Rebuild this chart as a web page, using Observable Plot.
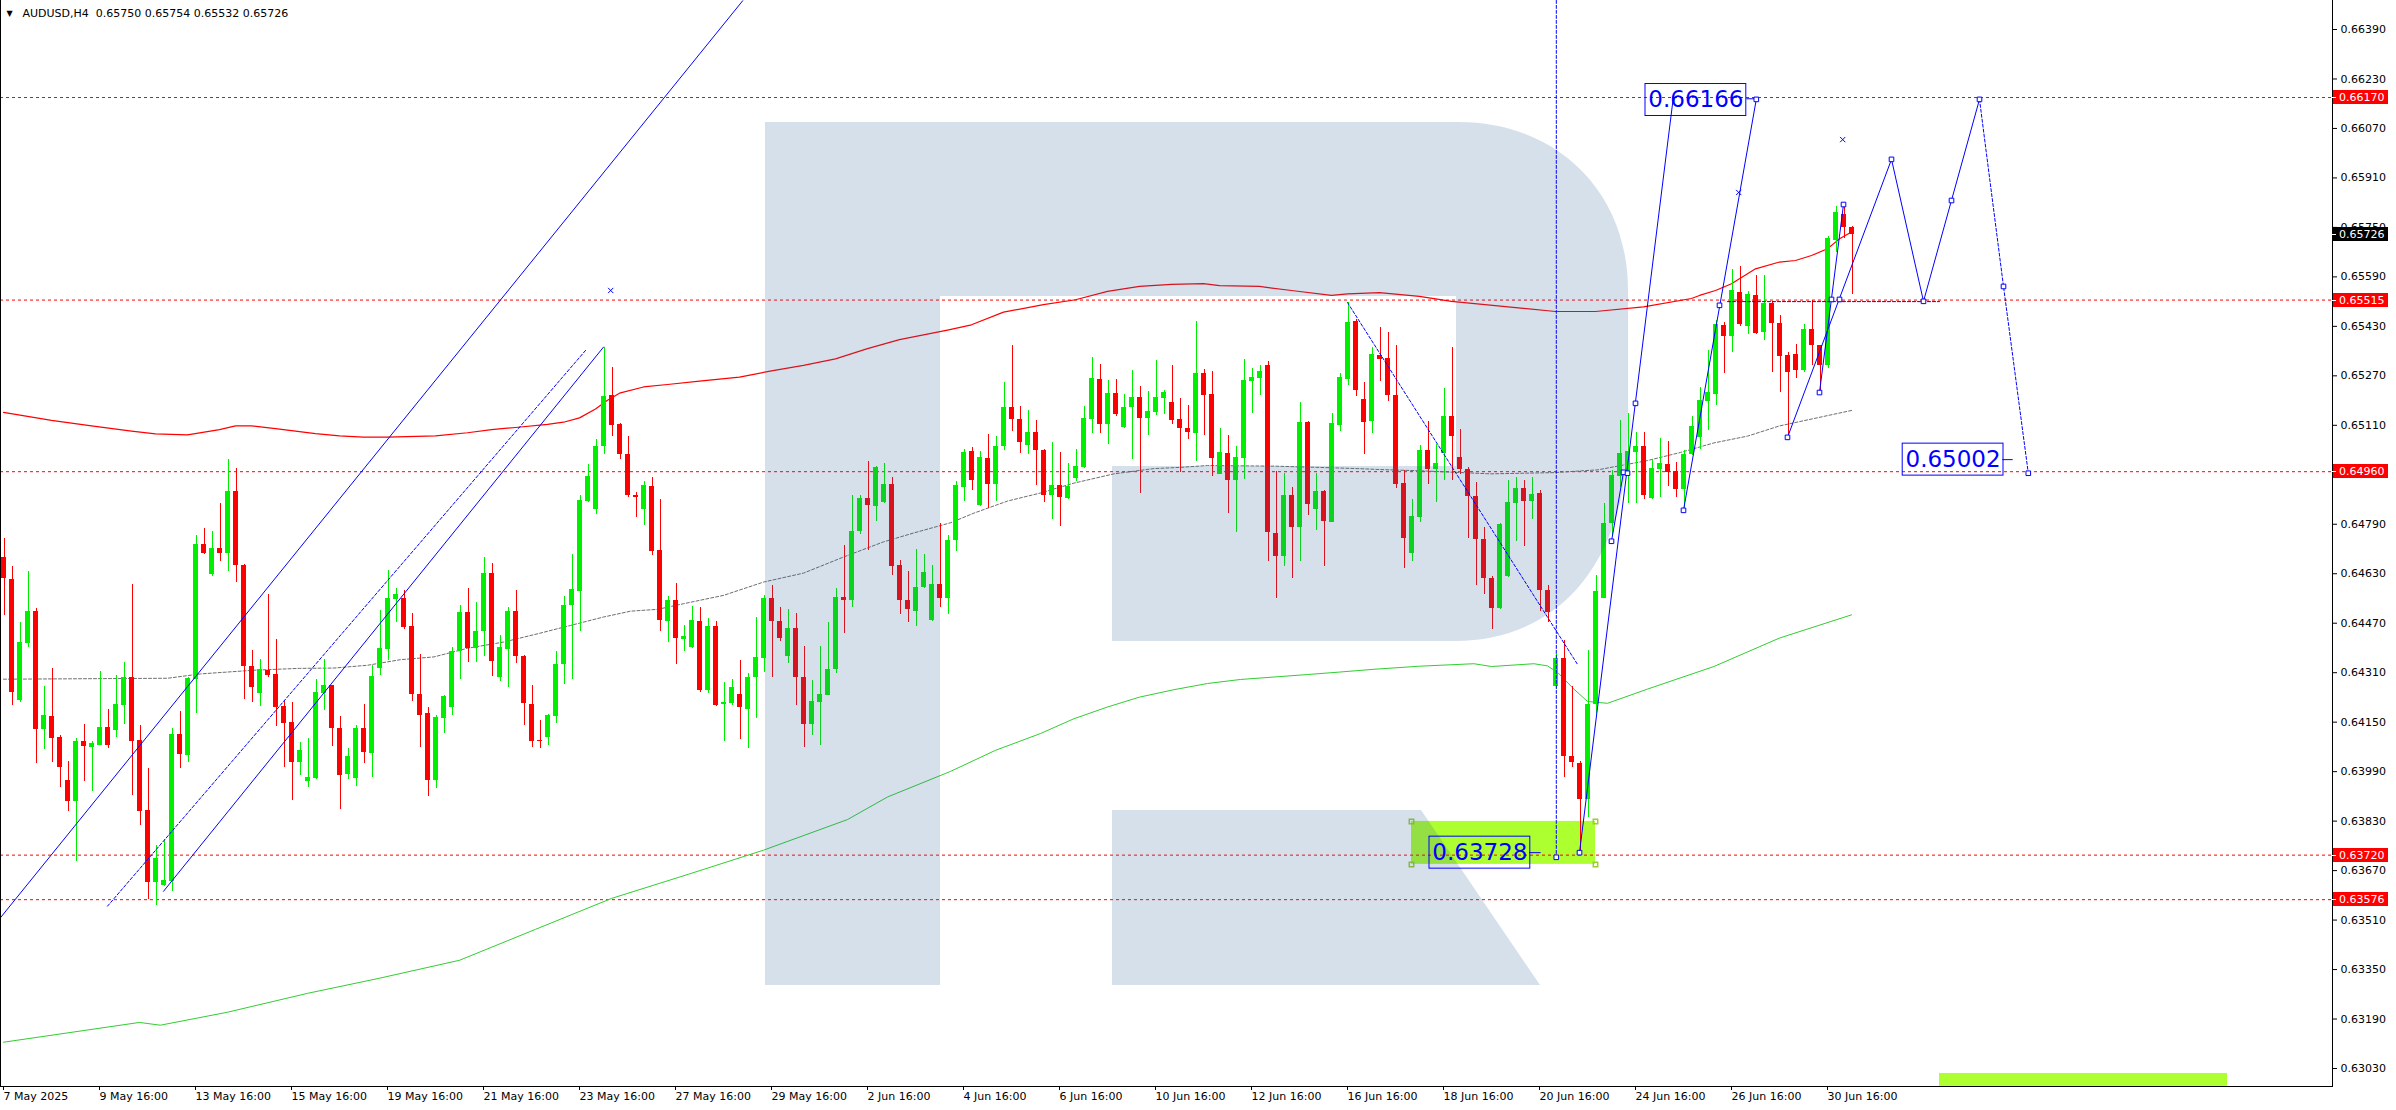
<!DOCTYPE html>
<html><head><meta charset="utf-8">
<script src="https://cdn.jsdelivr.net/npm/d3@7"></script>
<script src="https://cdn.jsdelivr.net/npm/@observablehq/plot@0.6"></script>
<style>html,body{margin:0;padding:0;background:#fff;} svg{display:block;}</style>
</head><body><div id="chart"></div>
<script>
// ---------- DATA ----------
const symbolTitle = "AUDUSD,H4  0.65750 0.65754 0.65532 0.65726";
const timeLabels = ["7 May 2025","9 May 16:00","13 May 16:00","15 May 16:00","19 May 16:00","21 May 16:00","23 May 16:00","27 May 16:00","29 May 16:00","2 Jun 16:00","4 Jun 16:00","6 Jun 16:00","10 Jun 16:00","12 Jun 16:00","16 Jun 16:00","18 Jun 16:00","20 Jun 16:00","24 Jun 16:00","26 Jun 16:00","30 Jun 16:00"];
const timeTickBars = [0,12,24,36,48,60,72,84,96,108,120,132,144,156,168,180,192,204,216,228];
const priceTicks = [0.63030,0.63190,0.63350,0.63510,0.63670,0.63830,0.63990,0.64150,0.64310,0.64470,0.64630,0.64790,0.65110,0.65270,0.65430,0.65590,0.65750,0.65910,0.66070,0.66230,0.66390];
const levelLines = [0.66170,0.65515,0.64960,0.63720,0.63576];
const lastPrice = 0.65726;

const opens = [0.64682,0.64611,0.64220,0.64406,0.64507,0.64125,0.64167,0.64100,0.63960,0.63894,
0.64087,0.64069,0.64075,0.64133,0.64124,0.64204,0.64294,0.64091,0.63863,0.63632,
0.63623,0.63635,0.64110,0.64043,0.64288,0.64724,0.64626,0.64712,0.64695,0.64896,
0.64657,0.64331,0.64244,0.64318,0.64304,0.64201,0.64148,0.64020,0.63959,0.63969,
0.64244,0.64268,0.64131,0.63982,0.63969,0.64129,0.64049,0.64324,0.64386,0.64547,
0.64549,0.64459,0.64238,0.64178,0.63961,0.64163,0.64198,0.64380,0.64505,0.64388,
0.64442,0.64631,0.64293,0.64386,0.64508,0.64363,0.64208,0.64091,0.64102,0.64169,
0.64335,0.64526,0.64574,0.64864,0.64838,0.65040,0.65205,0.65113,0.65016,0.64882,
0.64838,0.64913,0.64706,0.64477,0.64544,0.64416,0.64390,0.64476,0.64254,0.64460,
0.64206,0.64211,0.64240,0.64191,0.64293,0.64357,0.64550,0.64476,0.64361,0.64453,
0.64293,0.64141,0.64215,0.64237,0.64319,0.64552,0.64542,0.64765,0.64874,0.64849,
0.64861,0.64919,0.64657,0.64544,0.64509,0.64585,0.64479,0.64596,0.64551,0.64736,
0.64910,0.65026,0.64851,0.65002,0.64917,0.65040,0.65168,0.65129,0.65046,0.65086,
0.65029,0.64884,0.64916,0.64872,0.64939,0.64974,0.65130,0.65258,0.65114,0.65213,
0.65103,0.65166,0.65200,0.65133,0.65153,0.65197,0.65184,0.65129,0.65100,0.65084,
0.65278,0.65210,0.64952,0.65019,0.64933,0.65004,0.65252,0.65262,0.65304,0.64761,
0.64687,0.64883,0.64778,0.65119,0.64839,0.64896,0.64797,0.65111,0.65259,0.65446,
0.65194,0.65123,0.65336,0.65326,0.65207,0.64922,0.64694,0.64813,0.65029,0.64966,
0.65018,0.65137,0.65006,0.64967,0.64880,0.64741,0.64615,0.64516,0.64620,0.64856,
0.64907,0.64864,0.64889,0.64575,0.64264,0.64356,0.64039,0.64017,0.63901,0.64208,
0.64551,0.64793,0.64946,0.64952,0.65022,0.65042,0.64873,0.64967,0.64984,0.64962,
0.64904,0.65016,0.65071,0.65186,0.65211,0.65434,0.65396,0.65541,0.65430,0.65530,
0.65409,0.65504,0.65438,0.65336,0.65338,0.65286,0.65420,0.65367,0.65303,0.65708,
0.65792,0.65750];
const highs = [0.64744,0.64653,0.64473,0.64637,0.64517,0.64266,0.64324,0.64106,0.64023,0.64097,
0.64142,0.64088,0.64313,0.64190,0.64300,0.64342,0.64595,0.64139,0.64000,0.63751,
0.63770,0.64129,0.64184,0.64294,0.64754,0.64777,0.64767,0.64858,0.64999,0.64970,
0.64659,0.64382,0.64353,0.64562,0.64418,0.64220,0.64214,0.64085,0.64097,0.64287,
0.64353,0.64270,0.64167,0.64064,0.64139,0.64207,0.64332,0.64511,0.64640,0.64583,
0.64576,0.64501,0.64368,0.64197,0.64172,0.64235,0.64390,0.64528,0.64583,0.64537,
0.64683,0.64664,0.64431,0.64521,0.64576,0.64365,0.64267,0.64156,0.64175,0.64379,
0.64558,0.64693,0.64883,0.64984,0.65064,0.65363,0.65297,0.65115,0.65074,0.64893,
0.64928,0.64942,0.64870,0.64558,0.64598,0.64463,0.64524,0.64521,0.64486,0.64475,
0.64277,0.64288,0.64348,0.64307,0.64489,0.64559,0.64592,0.64522,0.64515,0.64503,
0.64395,0.64285,0.64395,0.64471,0.64581,0.64722,0.64883,0.64883,0.64993,0.64978,
0.64987,0.64942,0.64673,0.64638,0.64710,0.64693,0.64657,0.64792,0.64754,0.64929,
0.65032,0.65038,0.65026,0.65081,0.65074,0.65249,0.65368,0.65171,0.65158,0.65126,
0.65032,0.65055,0.65022,0.64987,0.65032,0.65171,0.65328,0.65307,0.65255,0.65258,
0.65210,0.65287,0.65236,0.65220,0.65320,0.65223,0.65304,0.65198,0.65174,0.65446,
0.65291,0.65284,0.65100,0.65077,0.65042,0.65323,0.65294,0.65304,0.65317,0.64961,
0.64954,0.64909,0.65184,0.65123,0.64954,0.64900,0.65148,0.65279,0.65507,0.65452,
0.65250,0.65362,0.65427,0.65411,0.65368,0.64965,0.64870,0.65045,0.65121,0.65047,
0.65229,0.65363,0.65096,0.64975,0.64925,0.64778,0.64620,0.64794,0.64933,0.64942,
0.64933,0.64942,0.64900,0.64593,0.64369,0.64415,0.64264,0.64023,0.64382,0.64624,
0.64857,0.64963,0.65125,0.65148,0.65086,0.65086,0.64997,0.65066,0.65058,0.64989,
0.65029,0.65137,0.65233,0.65352,0.65449,0.65442,0.65613,0.65624,0.65544,0.65596,
0.65594,0.65510,0.65464,0.65346,0.65371,0.65437,0.65515,0.65369,0.65720,0.65818,
0.65816,0.65754];
const lows = [0.64495,0.64204,0.64212,0.64390,0.64017,0.64061,0.64020,0.63940,0.63862,0.63699,
0.63959,0.63927,0.64075,0.64066,0.64102,0.64143,0.63914,0.63817,0.63575,0.63558,
0.63620,0.63602,0.64001,0.64021,0.64179,0.64692,0.64620,0.64670,0.64638,0.64602,
0.64224,0.64214,0.64202,0.64295,0.64136,0.64005,0.63897,0.63977,0.63938,0.63963,
0.64189,0.64072,0.63869,0.63965,0.63941,0.64017,0.63972,0.64301,0.64350,0.64471,
0.64451,0.64218,0.64069,0.63910,0.63936,0.64112,0.64172,0.64288,0.64343,0.64343,
0.64361,0.64299,0.64283,0.64261,0.64341,0.64138,0.64068,0.64064,0.64073,0.64147,
0.64271,0.64288,0.64442,0.64859,0.64820,0.65016,0.65075,0.65001,0.64878,0.64813,
0.64787,0.64689,0.64442,0.64409,0.64338,0.64380,0.64388,0.64247,0.64243,0.64201,
0.64089,0.64203,0.64093,0.64064,0.64161,0.64309,0.64293,0.64410,0.64341,0.64205,
0.64068,0.64108,0.64073,0.64235,0.64306,0.64436,0.64522,0.64758,0.64706,0.64800,
0.64858,0.64623,0.64498,0.64471,0.64458,0.64582,0.64477,0.64522,0.64497,0.64703,
0.64865,0.64900,0.64848,0.64842,0.64865,0.65030,0.65091,0.65020,0.65014,0.64914,
0.64859,0.64807,0.64784,0.64870,0.64929,0.64971,0.65082,0.65084,0.65049,0.65140,
0.65101,0.65001,0.64888,0.65078,0.65141,0.65146,0.65114,0.64957,0.65065,0.64993,
0.65078,0.64946,0.64950,0.64826,0.64762,0.64935,0.65148,0.65207,0.64671,0.64551,
0.64652,0.64613,0.64671,0.64817,0.64771,0.64655,0.64795,0.65091,0.65240,0.65204,
0.65014,0.65085,0.65253,0.65188,0.64906,0.64648,0.64671,0.64797,0.64919,0.64860,
0.64931,0.64931,0.64952,0.64743,0.64593,0.64564,0.64450,0.64514,0.64618,0.64735,
0.64718,0.64807,0.64508,0.64472,0.64257,0.63971,0.64002,0.63728,0.63841,0.64178,
0.64549,0.64752,0.64910,0.64857,0.64857,0.64871,0.64870,0.64877,0.64913,0.64875,
0.64835,0.65012,0.65033,0.65094,0.65173,0.65276,0.65344,0.65430,0.65405,0.65405,
0.65383,0.65282,0.65215,0.65071,0.65260,0.65282,0.65303,0.65216,0.65293,0.65668,
0.65713,0.65532];
const closes = [0.64613,0.64246,0.64408,0.64507,0.64127,0.64171,0.64098,0.64005,0.63894,0.64087,
0.64072,0.64080,0.64133,0.64075,0.64207,0.64294,0.64088,0.63861,0.63632,0.63709,
0.63637,0.64110,0.64046,0.64292,0.64724,0.64695,0.64712,0.64696,0.64896,0.64658,
0.64331,0.64263,0.64321,0.64301,0.64198,0.64147,0.64020,0.64058,0.63971,0.64245,
0.64268,0.64130,0.63978,0.64038,0.64129,0.64053,0.64298,0.64388,0.64549,0.64562,
0.64456,0.64240,0.64172,0.63961,0.64165,0.64232,0.64380,0.64505,0.64388,0.64443,
0.64631,0.64345,0.64392,0.64508,0.64361,0.64209,0.64089,0.64086,0.64172,0.64337,
0.64528,0.64579,0.64867,0.64945,0.65042,0.65203,0.65111,0.65014,0.64884,0.64878,
0.64916,0.64703,0.64480,0.64544,0.64419,0.64428,0.64479,0.64254,0.64460,0.64204,
0.64214,0.64263,0.64196,0.64295,0.64360,0.64550,0.64474,0.64422,0.64453,0.64293,
0.64141,0.64217,0.64240,0.64321,0.64552,0.64543,0.64767,0.64874,0.64852,0.64975,
0.64920,0.64655,0.64542,0.64513,0.64586,0.64634,0.64596,0.64551,0.64738,0.64916,
0.65022,0.64930,0.65006,0.64920,0.65042,0.65168,0.65130,0.65053,0.65087,0.65027,
0.64884,0.64916,0.64875,0.64912,0.64976,0.65132,0.65262,0.65114,0.65213,0.65145,
0.65168,0.65200,0.65133,0.65155,0.65200,0.65216,0.65127,0.65101,0.65087,0.65278,
0.65208,0.65004,0.65022,0.64933,0.65006,0.65255,0.65265,0.65284,0.64762,0.64687,
0.64883,0.64778,0.65119,0.64855,0.64896,0.64800,0.65116,0.65265,0.65443,0.65224,
0.65120,0.65339,0.65324,0.65205,0.64920,0.64745,0.64815,0.65029,0.64966,0.64985,
0.65138,0.65075,0.64966,0.64880,0.64740,0.64613,0.64516,0.64790,0.64861,0.64907,
0.64865,0.64886,0.64575,0.64504,0.64356,0.64039,0.64018,0.63901,0.64208,0.64574,
0.64793,0.64947,0.65020,0.65026,0.65042,0.64884,0.64970,0.64985,0.64956,0.64904,
0.65016,0.65105,0.65191,0.65216,0.65435,0.65396,0.65545,0.65437,0.65534,0.65408,
0.65504,0.65438,0.65334,0.65281,0.65286,0.65420,0.65367,0.65303,0.65714,0.65798,
0.65750,0.65726];

// moving averages: bar index -> value
const maRedBars = [0,6,11,16,19,23,27,29,31,34,39,42,45,48,54,58,61,64,68,70,72,74,75.5,77,80,83,87,92,96,100,104,108,112,118,121,125,130,134,138,142,146,150,152,157,161,166,168,172,177,181,194,199,205,211,212,214,216,219,222,224,226,228,229.5,231];
const maRedVals = [0.65152,0.65126,0.65108,0.65091,0.65082,0.65079,0.65096,0.65108,0.65108,0.65099,0.65083,0.65076,0.65072,0.65072,0.65076,0.65086,0.65096,0.65103,0.65113,0.65120,0.65134,0.65163,0.65191,0.65214,0.65234,0.65242,0.65253,0.65266,0.65286,0.65304,0.65325,0.65358,0.65387,0.65418,0.65435,0.65476,0.65500,0.65516,0.65543,0.65559,0.65566,0.65568,0.65562,0.65559,0.65546,0.65530,0.65535,0.65539,0.65527,0.65511,0.65478,0.65478,0.65493,0.65520,0.65530,0.65546,0.65568,0.65616,0.65638,0.65643,0.65659,0.65681,0.65713,0.65735];
const maGreenBars = [0,17,19.6,28,38,47,57,66.5,76,85.6,95,105.5,110.5,118.4,124,129.6,133.8,138,142,146.3,150.5,154.6,158.8,163,167,171.3,177,183.8,186,191.3,193,194.3,196.3,198,200.5,205.5,213.8,222,231];
const maGreenVals = [0.63115,0.63179,0.63170,0.63212,0.63273,0.63322,0.63380,0.63480,0.63580,0.63658,0.63736,0.63835,0.63908,0.63991,0.64059,0.64113,0.64161,0.64199,0.64231,0.64255,0.64275,0.64288,0.64296,0.64304,0.64312,0.64321,0.64331,0.64339,0.64330,0.64339,0.64332,0.64310,0.64257,0.64217,0.64211,0.64257,0.64330,0.64422,0.64497];
const maGrayBars = [0,20.5,24.6,31.3,37,41.3,45.5,49.6,53.8,58,62.5,66.8,70.9,75,78.4,81.8,85,90,95,100,105,110,113.8,118.4,121.3,125.5,129.6,133.8,138.8,143.8,147.1,150.5,158.8,163,169.3,172,177,185.9,193.8,199.3,205.5,209.6,213.8,218,222,231];
const maGrayVals = [0.64289,0.64292,0.64306,0.64318,0.64324,0.64325,0.64334,0.64352,0.64361,0.64389,0.64409,0.64436,0.64463,0.64490,0.64509,0.64515,0.64533,0.64560,0.64603,0.64632,0.64684,0.64733,0.64762,0.64795,0.64826,0.64865,0.64891,0.64923,0.64953,0.64970,0.64974,0.64980,0.64978,0.64975,0.64970,0.64967,0.64963,0.64953,0.64957,0.64966,0.64996,0.65022,0.65053,0.65075,0.65108,0.65158];

// analyst drawings (bar index, price)
const solidSegments = [
  {g:"chA", pts:[[-0.4,0.63517],[92.4,0.66483]]},
  {g:"chB", pts:[[20,0.63603],[75,0.65363]]},
  {g:"d1",  pts:[[197,0.63728],[208.75,0.66175]]},
  {g:"d1b", pts:[[201,0.64735],[202.5,0.64958]]},
  {g:"d2",  pts:[[210,0.64835],[219.1,0.66164]]},
  {g:"d6",  pts:[[227,0.65216],[230,0.65824]]},
  {g:"zz",  pts:[[223,0.65071],[236,0.65970],[240,0.65511],[247,0.66164]]},
  {g:"c1",  pts:[[217.9,0.66166],[219.1,0.66166]]},
  {g:"c2",  pts:[[249.9,0.64999],[251.1,0.64999]]},
  {g:"c3",  pts:[[190.75,0.63728],[192.1,0.63728]]}
];
const dashedSegments = [
  {g:"chC", pts:[[13,0.63555],[72.75,0.65352]]},
  {g:"fc",  pts:[[247,0.66164],[250,0.65559],[253.1,0.64955]]},
  {g:"d3",  pts:[[168,0.65507],[196.75,0.64337]]},
  {g:"vt",  pts:[[194.1,0.66484],[194.1,0.63713]]},
  {g:"hz",  pts:[[215.5,0.65510],[242,0.65510]]}
];
const squarePts = [[197,0.63728],[204,0.65181],[201,0.64735],[202.5,0.64958],[203,0.64955],[210,0.64835],[214.5,0.65498],[219.1,0.66164],[223,0.65071],[227,0.65216],[228.5,0.65517],[229.5,0.65517],[230,0.65824],[236,0.65970],[240,0.65511],[243.5,0.65837],[247,0.66164],[250,0.65559],[253.1,0.64955],[194.1,0.63713]];
const crossPts = [[75.9,0.65546],[216.9,0.65863],[229.9,0.66034]];
const priceLabels = [{t:"0.66166", bar:205.25, p:0.66162},{t:"0.65002", bar:237.4, p:0.64999},{t:"0.63728", bar:178.25, p:0.63728}];
const zoneBox = {b1:176, b2:199, p1:0.63690, p2:0.63829};
const timeBox = {b1:242, b2:278, p1:0.62972, p2:0.63014};

// ---------- CHART ----------
const GREEN = "#00ee00", RED = "#ff0000", BLUE = "#0000ff";
const W = 2396, H = 1110, MR = 64, MB = 24;
const xDomain = [0, 228], xRange = [3, 1827];
const yDomain = [0.63030, 0.66390], yRange = [1068, 29];
const yFallback = d3.scaleLinear(yDomain, yRange);

const candles = opens.map((o, i) => ({i, o, h: highs[i], l: lows[i], c: closes[i], up: closes[i] > o}));
const ups = candles.filter(d => d.up), downs = candles.filter(d => !d.up);
const bodyLo = d => Math.min(d.o, d.c);
const bodyHi = d => Math.max(d.o, d.c) + (Math.abs(d.o - d.c) < 0.00003 ? 0.00003 : 0);
const toRows = (bars, vals) => bars.map((b, k) => ({b, v: vals[k]}));
const segRows = segs => segs.flatMap(s => s.pts.map(([b, v]) => ({g: s.g, b, v})));

function tagMark(levels, bg, fg) {
  return (index, scales, values, dims) => {
    const ys = (scales && typeof scales.y === "function") ? scales.y : yFallback;
    const g = d3.create("svg:g").attr("text-anchor", "start");
    const x0 = dims.width - dims.marginRight;
    for (const v of levels) {
      const y = Math.round(ys(v));
      g.append("rect").attr("x", x0 + 1).attr("y", y - 7).attr("width", 55).attr("height", 14).attr("fill", bg);
      g.append("line").attr("x1", x0).attr("x2", x0 + 4).attr("y1", y + 0.5).attr("y2", y + 0.5).attr("stroke", fg);
      g.append("text").attr("x", x0 + 7).attr("y", y).attr("dy", "0.36em").attr("fill", fg).attr("text-anchor", "start")
        .attr("font-size", 11).attr("font-family", "'DejaVu Sans', sans-serif").text(v.toFixed(5));
    }
    return g.node();
  };
}
function frameMark(index, scales, values, dims) {
  const g = d3.create("svg:g").attr("stroke", "#000").attr("shape-rendering", "crispEdges");
  const xr = dims.width - dims.marginRight + 0.5, yb = dims.height - dims.marginBottom + 0.5;
  g.append("line").attr("x1", xr).attr("x2", xr).attr("y1", 0).attr("y2", yb);
  g.append("line").attr("x1", 0).attr("x2", xr).attr("y1", yb).attr("y2", yb);
  g.append("line").attr("x1", 0.5).attr("x2", 0.5).attr("y1", 0).attr("y2", yb);
  return g.node();
}
function watermark() {
  const g = d3.create("svg:g").attr("fill", "#34649a").attr("fill-opacity", 0.2);
  g.append("path")
    .attr("d", "M765,122 H1459 C1555,122 1628,190 1628,290 V430 C1628,560 1560,641 1455,641 H1112 V466 H1456 V296 H940 V985 H765 Z");
  g.append("path").attr("d", "M1112,810 H1421 L1540,985 H1112 Z");
  return g.node();
}

const chart = Plot.plot({
  width: W, height: H,
  marginLeft: 0, marginRight: MR, marginTop: 0, marginBottom: MB,
  style: {background: "#fff", fontFamily: "'DejaVu Sans', sans-serif", fontSize: "11px", color: "#000"},
  x: {type: "linear", domain: xDomain, range: xRange},
  y: {type: "linear", domain: yDomain, range: yRange},
  marks: [
    Plot.rect([zoneBox], {x1: "b1", x2: "b2", y1: "p1", y2: "p2", fill: "#adff2f"}),
    Plot.rect([timeBox], {x1: "b1", x2: "b2", y1: "p1", y2: "p2", fill: "#adff2f"}),
    Plot.dot([[zoneBox.b1, zoneBox.p1],[zoneBox.b1, zoneBox.p2],[zoneBox.b2, zoneBox.p1],[zoneBox.b2, zoneBox.p2]], {x: d => d[0], y: d => d[1], symbol: "square", r: 2.5, stroke: "#9acd32", fill: "none"}),
    Plot.ruleY(levelLines, {stroke: RED, strokeDasharray: "3,3", strokeWidth: 1}),
    Plot.line(toRows(maGreenBars, maGreenVals), {x: "b", y: "v", stroke: "#32cd32", strokeWidth: 1}),
    Plot.line(toRows(maGrayBars, maGrayVals), {x: "b", y: "v", stroke: "#6e6e6e", strokeWidth: 1, strokeDasharray: "3,2"}),
    Plot.line(toRows(maRedBars, maRedVals), {x: "b", y: "v", stroke: RED, strokeWidth: 1.2}),
    Plot.ruleX(ups, {x: d => d.i + 0.0625, y1: "l", y2: "h", stroke: GREEN, strokeWidth: 1, shapeRendering: "crispEdges"}),
    Plot.ruleX(downs, {x: d => d.i + 0.0625, y1: "l", y2: "h", stroke: RED, strokeWidth: 1, shapeRendering: "crispEdges"}),
    Plot.rect(ups, {x1: d => d.i - 0.25, x2: d => d.i + 0.375, y1: bodyLo, y2: bodyHi, fill: GREEN, shapeRendering: "crispEdges"}),
    Plot.rect(downs, {x1: d => d.i - 0.25, x2: d => d.i + 0.375, y1: bodyLo, y2: bodyHi, fill: RED, shapeRendering: "crispEdges"}),
    watermark,
    Plot.line(segRows(solidSegments), {x: "b", y: "v", z: "g", stroke: BLUE, strokeWidth: 1}),
    Plot.line(segRows(dashedSegments), {x: "b", y: "v", z: "g", stroke: BLUE, strokeWidth: 1, strokeDasharray: "3,2"}),
    Plot.dot(squarePts, {x: d => d[0], y: d => d[1], symbol: "square", r: 2.6, stroke: BLUE, fill: "#fff", strokeWidth: 1}),
    Plot.dot(crossPts, {x: d => d[0], y: d => d[1], symbol: "times", r: 2.5, stroke: BLUE, strokeWidth: 1}),
    Plot.rect(priceLabels, {x1: "bar", x2: d => d.bar + 12.6, y1: d => d.p - 0.000517, y2: d => d.p + 0.000517, fill: "none", stroke: BLUE, strokeWidth: 1}),
    Plot.text(priceLabels, {x: d => d.bar + 0.35, y: "p", text: "t", textAnchor: "start", fontSize: 23, fill: BLUE}),
    frameMark,
    Plot.axisY(priceTicks, {anchor: "right", tickSize: 4, tickPadding: 4, tickFormat: d => d.toFixed(5), fontSize: 11, label: null}),
    Plot.axisX(timeTickBars, {anchor: "bottom", tickSize: 4, tickPadding: 2, tickFormat: d => timeLabels[timeTickBars.indexOf(d)], textAnchor: "start", fontSize: 11, label: null}),
    tagMark(levelLines, RED, "#fff"),
    tagMark([lastPrice], "#000", "#fff"),
    Plot.text(["▼"], {text: d => d, frameAnchor: "top-left", dx: 9, dy: 13, lineAnchor: "middle", textAnchor: "middle", fontSize: 8}),
    Plot.text([symbolTitle], {text: d => d, frameAnchor: "top-left", dx: 22, dy: 13, lineAnchor: "middle", textAnchor: "start", fontSize: 11})
  ]
});
document.getElementById("chart").appendChild(chart);
</script>
</body></html>
